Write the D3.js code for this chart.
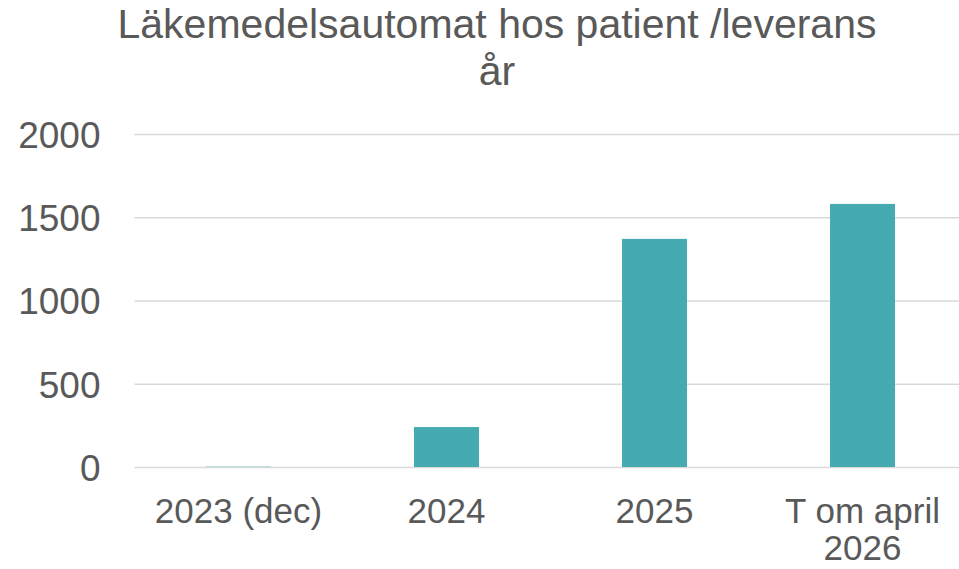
<!DOCTYPE html>
<html>
<head>
<meta charset="utf-8">
<script src="https://cdn.jsdelivr.net/npm/d3@7"></script>
<style>
  body { margin: 0; background: #fff; }
  svg text { font-family: "Liberation Sans", Arial, sans-serif; fill: #595959; }
</style>
</head>
<body>
<svg id="chart" width="959" height="569"></svg>
<script>
// data
const categories = ["2023 (dec)", "2024", "2025", "T om april 2026"];
const values = [2, 240, 1370, 1580];
const yTicks = [0, 500, 1000, 1500, 2000];
const titleLines = ["Läkemedelsautomat hos patient /leverans", "år"];

const svg = d3.select("#chart");
const barColor = "#45abb0";
const gridColor = "#d9d9d9";

let x = d3.scaleBand()
    .domain(categories)
    .range([134.5, 966.5])
    .paddingInner(0.6875)
    .paddingOuter(0.34375);

let y = d3.scaleLinear().domain([0, 2000]).range([467, 134]);

// title
let title = svg.append("text")
    .attr("text-anchor", "middle")
    .style("font-size", "41px");
titleLines.forEach(function(t, i) {
    title.append("tspan").attr("x", 497).attr("y", 38 + i * 47).text(t);
});

// gridlines + y labels
let yaxis = d3.axisLeft(y)
    .tickValues(yTicks)
    .tickSize(-(959 - 134.5))
    .tickPadding(34)
    .tickFormat(d => d);

svg.append("g")
    .attr("class", "y axis")
    .attr("transform", "translate(134.5,0)")
    .call(yaxis)
    .call(g => g.select(".domain").remove())
    .call(g => g.selectAll(".tick line").attr("stroke", gridColor).attr("stroke-width", 1.5))
    .call(g => g.selectAll(".tick text")
        .style("font-size", "37px")
        .attr("fill", "#595959")
        .attr("dy", "0.36em"));

// bars
svg.append("g").selectAll("rect")
    .data(categories)
    .join("rect")
    .attr("x", d => x(d))
    .attr("width", x.bandwidth())
    .attr("y", (d, i) => y(values[i]))
    .attr("height", (d, i) => y(0) - y(values[i]))
    .attr("fill", barColor);

// x labels, wrapped like the original
let xaxis = d3.axisBottom(x).tickSize(0).tickPadding(0);
svg.append("g")
    .attr("class", "x axis")
    .attr("transform", "translate(0,467)")
    .call(xaxis)
    .call(g => g.select(".domain").remove())
    .call(g => g.selectAll(".tick text").each(function(d) {
        let t = d3.select(this).text("").attr("y", 0).attr("dy", null)
            .style("font-size", "35px").attr("fill", "#595959");
        let lines = d == "T om april 2026" ? ["T om april", "2026"] : [d];
        lines.forEach(function(l, i) {
            t.append("tspan").attr("x", 0).attr("y", 56 + i * 37).text(l);
        });
    }));
</script>
</body>
</html>
